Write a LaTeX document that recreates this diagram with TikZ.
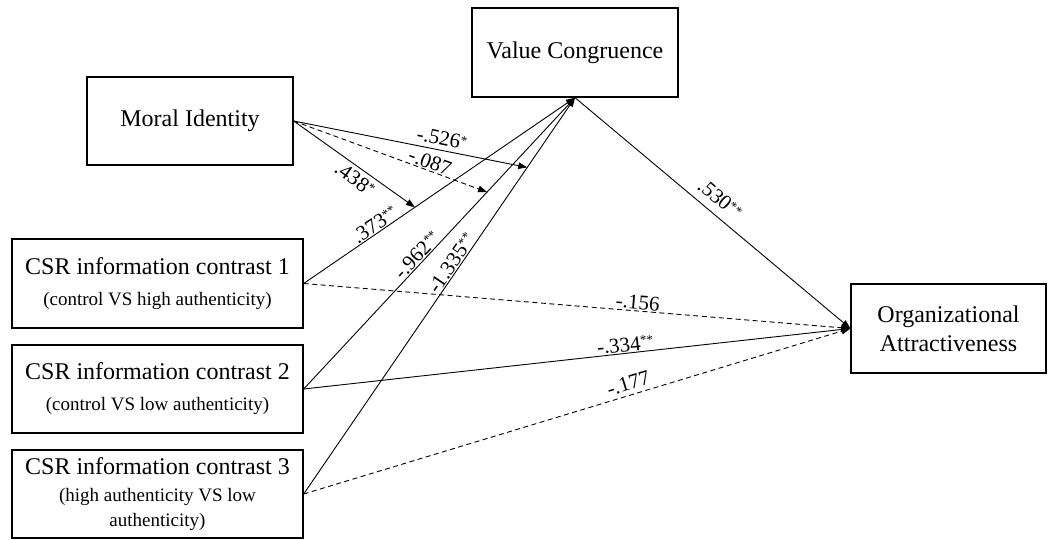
\documentclass[tikz,border=0pt]{standalone}
\usepackage{fontspec}
\setmainfont{Liberation Serif}
\usetikzlibrary{arrows.meta,calc}
\newcommand\stars[1]{\raisebox{5pt}{\fontsize{13}{13}\selectfont #1}}
\newcommand\subl[1]{\fontsize{19}{24}\selectfont #1}
\tikzset{
 box/.style={draw, line width=1.3pt, inner sep=0pt, align=center, font=\fontsize{24}{29}\selectfont},
 conn/.style={line width=0.9pt},
 dsh/.style={line width=0.9pt, dash pattern=on 5pt off 3.5pt},
 tip/.style={-{Triangle[length=9pt,width=6.5pt]}},
 lbl/.style={font=\fontsize{21}{24}\selectfont, sloped, inner sep=1pt}
}
\begin{document}
\begin{tikzpicture}[x=1pt,y=-1pt]
\useasboundingbox (0,0) rectangle (1048,540);
\node[box, minimum width=206pt, minimum height=89pt] (vc) at (575,52.5) {Value Congruence};
\node[box, minimum width=206pt, minimum height=88pt] (mi) at (190,121) {Moral Identity};
\node[box, minimum width=291pt, minimum height=89pt] (c1) at (157.5,283.5) {CSR information contrast 1\\[2pt]\subl{(control VS high authenticity)}};
\node[box, minimum width=291pt, minimum height=88pt] (c2) at (157.5,389) {CSR information contrast 2\\[2pt]\subl{(control VS low authenticity)}};
\node[box, minimum width=291pt, minimum height=88pt] (c3) at (157.5,494) {CSR information contrast 3\\[-2pt]\subl{(high authenticity VS low}\\[-4pt]\subl{authenticity)}};
\node[box, minimum width=195pt, minimum height=89pt] (oa) at (948.5,328.5) {Organizational\\Attractiveness};

\coordinate (m1) at ($(c1.east)!0.41!(vc.south)$);
\coordinate (m2) at ($(c2.east)!0.676!(vc.south)$);
\coordinate (m3) at ($(c3.east)!0.824!(vc.south)$);

\draw[conn,tip] (c1.east) -- node[lbl,pos=0.28,above]{.373\stars{**}} (vc.south);
\draw[conn,tip] (c2.east) -- node[lbl,pos=0.44,above]{-.962\stars{**}} (vc.south);
\draw[conn,tip] (c3.east) -- node[lbl,pos=0.57,above]{-1.335\stars{**}} (vc.south);

\draw[conn,tip] (mi.east) -- node[lbl,pos=0.56,below=3pt]{.438\stars{*}} (m1);
\draw[dsh,tip] (mi.east) -- node[lbl,pos=0.69,above]{-.087} (m2);
\draw[conn,tip] (mi.east) -- node[lbl,pos=0.625,above=3pt]{-.526\stars{*}} (m3);

\draw[conn,tip] (vc.south) -- node[lbl,pos=0.49,above=7pt]{.530\stars{**}} (oa.west);
\draw[dsh,tip] (c1.east) -- node[lbl,pos=0.61,above]{-.156} (oa.west);
\draw[conn,tip] (c2.east) -- node[lbl,pos=0.59,above]{-.334\stars{**}} (oa.west);
\draw[dsh,tip] (c3.east) -- node[lbl,pos=0.6,above=3pt]{-.177} (oa.west);
\end{tikzpicture}
\end{document}
